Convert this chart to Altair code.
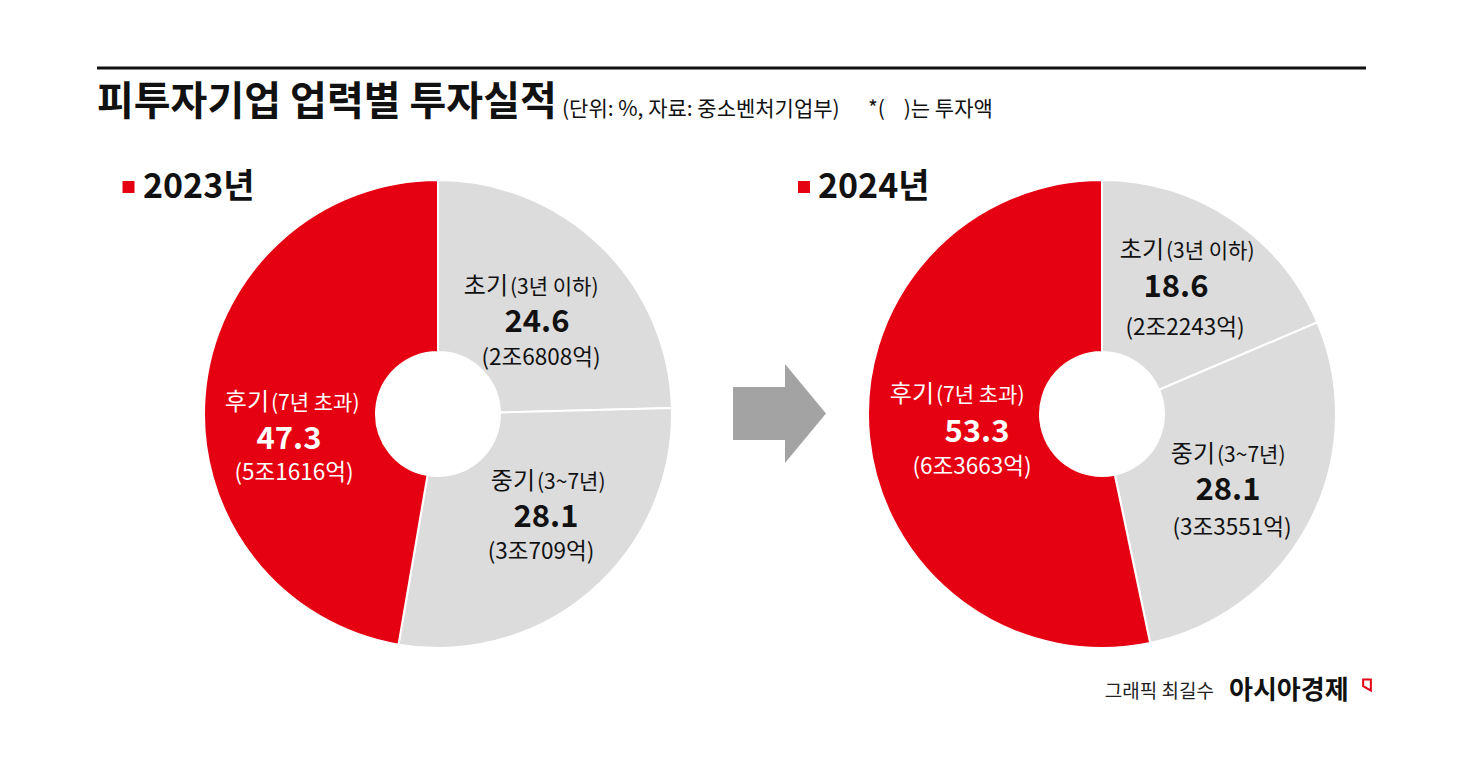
import altair as alt
import pandas as pd

# ---------------- data ----------------
categories = ["초기", "중기", "후기"]
periods = ["(3년 이하)", "(3~7년)", "(7년 초과)"]
share_2023 = [24.6, 28.1, 47.3]
share_2024 = [18.6, 28.1, 53.3]
amount_2023 = ["(2조6808억)", "(3조709억)", "(5조1616억)"]
amount_2024 = ["(2조2243억)", "(3조3551억)", "(6조3663억)"]
years = ["2023년", "2024년"]

title_text = "피투자기업 업력별 투자실적"
subtitle_text = "(단위: %, 자료: 중소벤처기업부)"
note_text = "*(\u00a0\u00a0\u00a0\u00a0)는 투자액"
credit_text = "그래픽 최길수"
brand_text = "아시아경제"

# ---------------- styles / layout ----------------
FONT = "Noto Sans CJK KR"
RED = "#e50012"
GRAY = "#dcdcdc"
ARROW = "#a3a3a3"
INK = "#111111"
OFF = 8  # page margin

OUTER_R = 234
INNER_R = 62
centers = [(438, 414), (1102, 414)]

# label layout (page px): name split x / name y, value centre, amount centre
label_pos = {
    0: {"초기": [(509, 287), (537, 323), (541, 358)],
        "중기": [(536, 482), (546, 518), (541, 552)],
        "후기": [(270, 403), (289, 440), (294, 473)]},
    1: {"초기": [(1165, 251), (1176, 288), (1185, 328)],
        "중기": [(1216, 455), (1228, 491), (1232, 528)],
        "후기": [(935, 395), (977, 433), (972, 467)]},
}
year_pos = [(143, 188), (818, 188)]
square_pos = [(128.5, 187), (804, 187)]


def txt(s, x, y, size, weight="normal", color=INK, align="center"):
    return alt.Chart(pd.DataFrame({"t": [s]})).mark_text(
        align=align, baseline="middle", fontSize=size, fontWeight=weight,
        color=color, font=FONT
    ).encode(text="t:N", x=alt.value(x - OFF), y=alt.value(y - OFF))


layers = []

# top rule
layers.append(
    alt.Chart(pd.DataFrame({"a": [0]})).mark_rule(color="#111111", strokeWidth=3).encode(
        x=alt.value(97 - OFF), x2=alt.value(1366 - OFF), y=alt.value(68 - OFF)
    )
)

# title & notes
layers.append(txt(title_text, 97, 103, 40, "bold", align="left"))
layers.append(txt(subtitle_text, 562, 110, 21, align="left"))
layers.append(txt(note_text, 868, 110, 21, align="left"))

shares = [share_2023, share_2024]
amounts = [amount_2023, amount_2024]

color_scale = alt.Scale(domain=categories, range=[GRAY, GRAY, RED])

for i in range(2):
    df = pd.DataFrame({
        "cat": categories,
        "value": shares[i],
        "idx": [0, 1, 2],
    })
    cx, cy = centers[i]
    arc = alt.Chart(df).mark_arc(
        innerRadius=INNER_R, outerRadius=OUTER_R, stroke="white", strokeWidth=2
    ).encode(
        theta=alt.Theta("value:Q", stack=True),
        color=alt.Color("cat:N", scale=color_scale, legend=None),
        order=alt.Order("idx:Q"),
        x=alt.value(cx - OFF),
        y=alt.value(cy - OFF),
    )
    layers.append(arc)

    for k, cat in enumerate(categories):
        col = "white" if cat == "후기" else INK
        (nx, ny), (vx, vy), (ax, ay) = label_pos[i][cat]
        layers.append(txt(cat, nx - 1, ny, 24, color=col, align="right"))
        layers.append(txt(periods[k], nx + 1, ny + 1, 21, color=col, align="left"))
        layers.append(txt(f"{shares[i][k]:.1f}", vx, vy, 31, "bold", color=col))
        layers.append(txt(amounts[i][k], ax, ay, 22.5, color=col))

    # year header
    sx, sy = square_pos[i]
    layers.append(
        alt.Chart(pd.DataFrame({"a": [0]})).mark_point(
            shape="square", filled=True, size=144, color=RED, opacity=1
        ).encode(x=alt.value(sx - OFF), y=alt.value(sy - OFF))
    )
    yx, yy = year_pos[i]
    layers.append(txt(years[i], yx, yy, 34, "bold", align="left"))

# arrow
arrow_path = ("M -0.939 -0.535 L 0.111 -0.535 L 0.111 -1 L 0.939 0 "
              "L 0.111 1 L 0.111 0.535 L -0.939 0.535 Z")
layers.append(
    alt.Chart(pd.DataFrame({"a": [0]})).mark_point(
        shape=arrow_path, filled=True, size=99 * 99, color=ARROW, opacity=1
    ).encode(x=alt.value(779.5 - OFF), y=alt.value(413.5 - OFF))
)

# credit
layers.append(txt(credit_text, 1214, 692, 19, color="#222222", align="right"))
layers.append(txt(brand_text, 1229, 691, 26, "bold", align="left"))
flag_path = "M -0.7 -1 L 0.7 -1 L 0.7 1 L -0.7 0.2 Z"
layers.append(
    alt.Chart(pd.DataFrame({"a": [0]})).mark_point(
        shape=flag_path, filled=False, size=121, color=RED, strokeWidth=2, opacity=1
    ).encode(x=alt.value(1367 - OFF), y=alt.value(685 - OFF))
)

chart = alt.layer(*layers).properties(
    width=1462, height=749,
    autosize=alt.AutoSizeParams(type="none"),
    padding=0,
    background="white",
).configure_view(stroke=None)

chart.save("out.html", embed_options={"renderer": "svg", "actions": False})
